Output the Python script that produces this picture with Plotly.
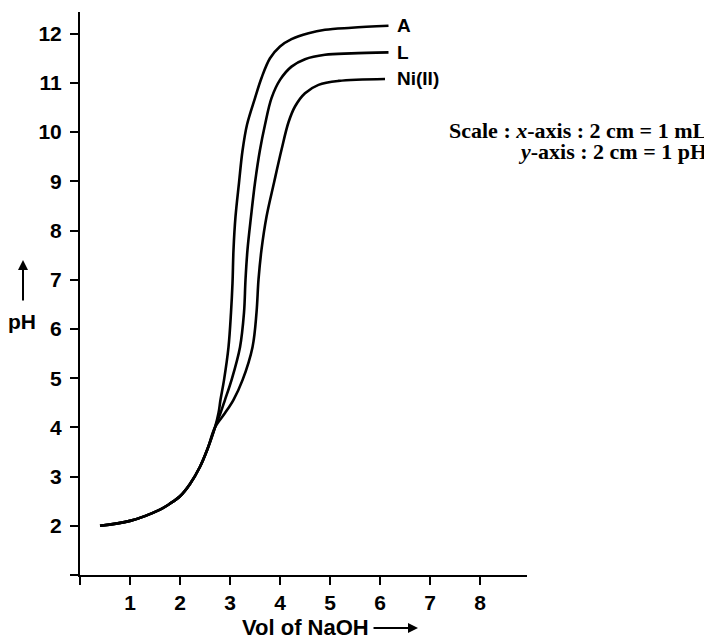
import plotly.graph_objects as go

# ---- data ----
vol_common = [0.40, 1.00, 1.60, 1.80, 2.00, 2.20, 2.40, 2.55, 2.70]
ph_common = [2.00, 2.10, 2.33, 2.45, 2.60, 2.85, 3.20, 3.56, 4.00]

vol_A = [2.77, 2.81, 2.88, 2.97, 3.02, 3.05, 3.07, 3.11, 3.18, 3.25, 3.34, 3.50, 3.63, 3.80, 4.00, 4.23, 4.57, 4.90, 5.43, 6.17]
ph_A = [4.29, 4.56, 4.96, 5.63, 6.33, 6.93, 7.61, 8.28, 8.97, 9.62, 10.15, 10.69, 11.10, 11.50, 11.74, 11.89, 12.01, 12.08, 12.12, 12.16]

vol_L = [2.81, 2.90, 3.03, 3.20, 3.28, 3.31, 3.35, 3.42, 3.50, 3.60, 3.70, 3.83, 4.00, 4.23, 4.50, 4.90, 5.43, 6.17]
ph_L = [4.29, 4.56, 4.96, 5.63, 6.33, 7.00, 7.61, 8.28, 8.97, 9.64, 10.15, 10.69, 11.06, 11.33, 11.48, 11.57, 11.60, 11.62]

vol_Ni = [2.90, 3.07, 3.25, 3.45, 3.53, 3.57, 3.63, 3.73, 3.88, 4.03, 4.17, 4.30, 4.50, 4.77, 5.17, 6.10]
ph_Ni = [4.29, 4.56, 4.96, 5.63, 6.33, 7.00, 7.61, 8.28, 8.97, 9.64, 10.20, 10.52, 10.79, 10.96, 11.04, 11.08]

series_names = ["A", "L", "Ni(II)"]
x_ticks = [0, 1, 2, 3, 4, 5, 6, 7, 8]
x_tick_labels = ["", "1", "2", "3", "4", "5", "6", "7", "8"]
y_ticks = [1, 2, 3, 4, 5, 6, 7, 8, 9, 10, 11, 12]
y_tick_labels = ["", "2", "3", "4", "5", "6", "7", "8", "9", "10", "11", "12"]

X_RANGE = [0, 8.94]
Y_RANGE = [1, 12.44]

SANS = "Liberation Sans, Arial, sans-serif"
SERIF = "Liberation Serif, Times New Roman, serif"

fig = go.Figure()
for name, vx, vy in zip(series_names, [vol_A, vol_L, vol_Ni], [ph_A, ph_L, ph_Ni]):
    xs = vol_common + vx
    ys = ph_common + vy
    fig.add_trace(go.Scatter(
        x=xs, y=ys, mode="lines", name=name,
        line=dict(color="black", width=2.6, shape="spline", smoothing=1.0),
        showlegend=False, hoverinfo="skip",
    ))
    fig.add_annotation(
        x=6.3, y=ys[-1], xref="x", yref="y", text=name, showarrow=False,
        xanchor="left", yanchor="middle",
        font=dict(family=SANS, size=19, color="black", weight="bold"),
    )

# the page body adds an 8px offset, so the figure is sized to fit the window
fig.update_layout(
    width=704, height=632,
    margin=dict(l=72, r=185, t=4, b=65, autoexpand=False),
    paper_bgcolor="white", plot_bgcolor="white",
    xaxis=dict(
        range=X_RANGE, showgrid=False, zeroline=False,
        showline=True, linecolor="black", linewidth=2,
        ticks="outside", ticklen=8, tickwidth=2, tickcolor="black",
        tickvals=x_ticks, ticktext=x_tick_labels,
        tickfont=dict(family=SANS, size=21, color="black", weight="bold"),
        fixedrange=True,
    ),
    yaxis=dict(
        range=Y_RANGE, showgrid=False, zeroline=False,
        showline=True, linecolor="black", linewidth=2,
        ticks="outside", ticklen=8, tickwidth=2, tickcolor="black",
        tickvals=y_ticks, ticktext=y_tick_labels,
        tickfont=dict(family=SANS, size=21, color="black", weight="bold"),
        ticklabelstandoff=4,
        fixedrange=True,
    ),
)

# axis titles with arrows
fig.add_annotation(
    x=0.5034, y=-0.094, xref="paper", yref="paper", text="Vol of NaOH",
    showarrow=False, xanchor="center", yanchor="middle",
    font=dict(family=SANS, size=22, color="black", weight="bold"),
)
fig.add_annotation(
    x=0.7562, y=-0.094, xref="paper", yref="paper", text="",
    showarrow=True, ax=-46, ay=0, arrowhead=2, arrowsize=1, arrowwidth=2,
    arrowcolor="black",
)
fig.add_annotation(
    x=-0.1298, y=0.4494, xref="paper", yref="paper", text="pH",
    showarrow=False, xanchor="center", yanchor="middle",
    font=dict(family=SANS, size=21, color="black", weight="bold"),
)
fig.add_annotation(
    x=-0.1275, y=0.5595, xref="paper", yref="paper", text="",
    showarrow=True, ax=0, ay=42, arrowhead=2, arrowsize=1, arrowwidth=2,
    arrowcolor="black",
)

# scale note (two lines)
fig.add_annotation(
    x=1.4070, y=0.7904, xref="paper", yref="paper",
    text="Scale : <i>x</i>-axis : 2 cm = 1 mL",
    showarrow=False, xanchor="right", yanchor="middle",
    font=dict(family=SERIF, size=22, color="black", weight="bold"),
)
fig.add_annotation(
    x=1.4070, y=0.7531, xref="paper", yref="paper",
    text="<i>y</i>-axis : 2 cm = 1 pH",
    showarrow=False, xanchor="right", yanchor="middle",
    font=dict(family=SERIF, size=22, color="black", weight="bold"),
)

fig.write_html("out.html")
